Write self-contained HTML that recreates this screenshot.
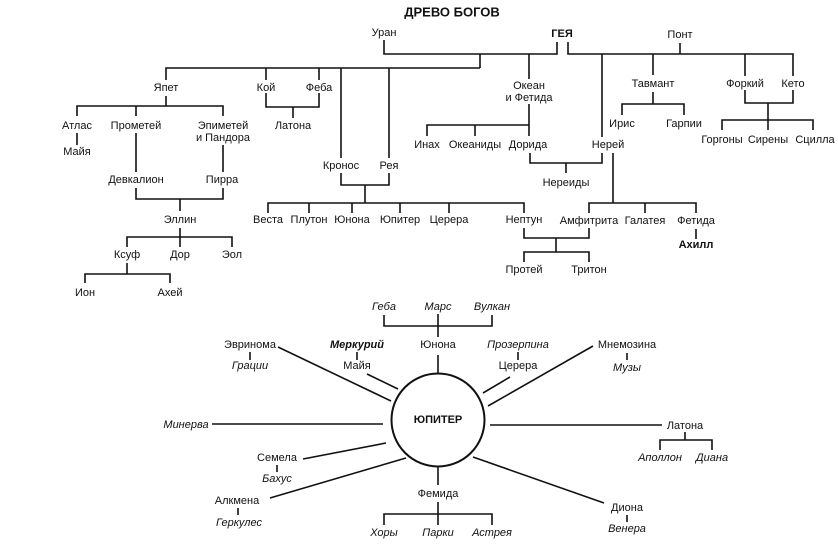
<!DOCTYPE html>
<html><head><meta charset="utf-8"><style>
html,body{margin:0;padding:0;background:#fff;}
svg{display:block;}
text{font-family:"Liberation Sans",sans-serif;font-size:11px;fill:#111;text-anchor:middle;dominant-baseline:central;}
.i{font-style:italic;}
.b{font-weight:bold;}
</style></head><body>
<svg width="838" height="545" viewBox="0 0 838 545" xmlns="http://www.w3.org/2000/svg">
<g stroke="#111" stroke-width="1.6" fill="none">
<!-- top -->
<polyline points="384,40 384,54 557,54 557,42"/>
<polyline points="480,54 480,68"/>
<polyline points="166,80 166,68 480,68"/>
<line x1="266" y1="68" x2="266" y2="80"/>
<line x1="319" y1="68" x2="319" y2="80"/>
<line x1="341" y1="68" x2="341" y2="158"/>
<line x1="389" y1="68" x2="389" y2="158"/>
<line x1="529" y1="54" x2="529" y2="79"/>
<polyline points="568,42 568,54 793,54 793,76"/>
<line x1="680" y1="43" x2="680" y2="54"/>
<line x1="602" y1="54" x2="602" y2="137"/>
<line x1="653" y1="54" x2="653" y2="75"/>
<line x1="745" y1="54" x2="745" y2="76"/>
<!-- Тавмант -->
<polyline points="653,92 653,104"/>
<polyline points="622,115 622,104 684,104 684,115"/>
<!-- Форкий Кето -->
<polyline points="745,90 745,103 793,103 793,90"/>
<line x1="768" y1="103" x2="768" y2="120"/>
<polyline points="722,130 722,120 813,120 813,130"/>
<line x1="768" y1="120" x2="768" y2="130"/>
<!-- Океан -->
<line x1="529" y1="104" x2="529" y2="136"/>
<polyline points="427,136 427,125 529,125"/>
<line x1="475" y1="125" x2="475" y2="136"/>
<polyline points="530,153 530,163 602,163 602,153"/>
<line x1="566" y1="163" x2="566" y2="173"/>
<!-- Нерей -->
<line x1="613" y1="153" x2="613" y2="203"/>
<polyline points="589,213 589,203 696,203 696,213"/>
<line x1="645" y1="203" x2="645" y2="213"/>
<line x1="696" y1="229" x2="696" y2="239"/>
<!-- Нептун -->
<polyline points="524,228 524,238 589,238 589,228"/>
<line x1="556" y1="238" x2="556" y2="252"/>
<polyline points="524,262 524,252 589,252 589,262"/>
<!-- Kronos -->
<polyline points="341,173 341,185 389,185 389,173"/>
<line x1="365" y1="185" x2="365" y2="203"/>
<polyline points="268,213 268,203 524,203 524,213"/>
<line x1="309" y1="203" x2="309" y2="213"/>
<line x1="352" y1="203" x2="352" y2="213"/>
<line x1="400" y1="203" x2="400" y2="213"/>
<line x1="449" y1="203" x2="449" y2="213"/>
<!-- Кой Феба -->
<polyline points="266,93 266,107 319,107 319,93"/>
<line x1="293" y1="107" x2="293" y2="118"/>
<!-- Япет -->
<line x1="166" y1="96" x2="166" y2="106"/>
<polyline points="77,116 77,106 223,106 223,116"/>
<line x1="136" y1="106" x2="136" y2="116"/>
<line x1="77" y1="133" x2="77" y2="145"/>
<line x1="136" y1="133" x2="136" y2="172"/>
<line x1="223" y1="145" x2="223" y2="172"/>
<polyline points="136,188 136,199 223,199 223,188"/>
<line x1="180" y1="199" x2="180" y2="211"/>
<line x1="180" y1="228" x2="180" y2="247"/>
<polyline points="127,247 127,237 232,237 232,247"/>
<line x1="127" y1="263" x2="127" y2="274"/>
<polyline points="85,283 85,274 170,274 170,283"/>
<!-- bottom -->
<circle cx="438" cy="420" r="46.5" stroke-width="2"/>
<polyline points="384,315 384,326 492,326 492,315"/>
<line x1="438" y1="314" x2="438" y2="337"/>
<line x1="438" y1="355" x2="438" y2="373"/>
<line x1="357" y1="352" x2="357" y2="360"/>
<line x1="367" y1="374" x2="398" y2="389"/>
<line x1="250" y1="352" x2="250" y2="360"/>
<line x1="278" y1="347" x2="391" y2="401"/>
<line x1="212" y1="424" x2="383" y2="424"/>
<line x1="303" y1="459" x2="386" y2="443"/>
<line x1="277" y1="465" x2="277" y2="472"/>
<line x1="270" y1="498" x2="406" y2="458"/>
<line x1="238" y1="508" x2="238" y2="515"/>
<line x1="438" y1="467" x2="438" y2="485"/>
<line x1="438" y1="502" x2="438" y2="525"/>
<polyline points="384,525 384,514 492,514 492,525"/>
<line x1="518" y1="352" x2="518" y2="360"/>
<line x1="483" y1="393" x2="510" y2="377"/>
<line x1="627" y1="353" x2="627" y2="360"/>
<line x1="488" y1="406" x2="593" y2="346"/>
<line x1="490" y1="425" x2="662" y2="425"/>
<line x1="685" y1="432" x2="685" y2="440"/>
<polyline points="660,450 660,440 712,440 712,450"/>
<line x1="627" y1="515" x2="627" y2="522"/>
<line x1="473" y1="457" x2="604" y2="503"/>
</g>
<text x="452" y="12" class="b" style="font-size:13px">ДРЕВО БОГОВ</text>
<text x="384" y="33">Уран</text>
<text x="562" y="34" class="b">ГЕЯ</text>
<text x="680" y="35">Понт</text>
<text x="166" y="88">Япет</text>
<text x="266" y="88">Кой</text>
<text x="319" y="88">Феба</text>
<text x="293" y="126">Латона</text>
<text x="529" y="86">Океан</text>
<text x="529" y="98">и Фетида</text>
<text x="653" y="84">Тавмант</text>
<text x="745" y="84">Форкий</text>
<text x="793" y="84">Кето</text>
<text x="622" y="124">Ирис</text>
<text x="684" y="124">Гарпии</text>
<text x="722" y="140">Горгоны</text>
<text x="768" y="140">Сирены</text>
<text x="815" y="140">Сцилла</text>
<text x="427" y="145">Инах</text>
<text x="475" y="145">Океаниды</text>
<text x="528" y="145">Дорида</text>
<text x="608" y="145">Нерей</text>
<text x="566" y="183">Нереиды</text>
<text x="77" y="126">Атлас</text>
<text x="136" y="126">Прометей</text>
<text x="223" y="126">Эпиметей</text>
<text x="223" y="138">и Пандора</text>
<text x="77" y="152">Майя</text>
<text x="136" y="180">Девкалион</text>
<text x="222" y="180">Пирра</text>
<text x="180" y="220">Эллин</text>
<text x="127" y="255">Ксуф</text>
<text x="180" y="255">Дор</text>
<text x="232" y="255">Эол</text>
<text x="85" y="293">Ион</text>
<text x="170" y="293">Ахей</text>
<text x="341" y="166">Кронос</text>
<text x="389" y="166">Рея</text>
<text x="268" y="220">Веста</text>
<text x="309" y="220">Плутон</text>
<text x="352" y="220">Юнона</text>
<text x="400" y="220">Юпитер</text>
<text x="449" y="220">Церера</text>
<text x="524" y="220">Нептун</text>
<text x="589" y="221">Амфитрита</text>
<text x="645" y="221">Галатея</text>
<text x="696" y="221">Фетида</text>
<text x="696" y="245" class="b">Ахилл</text>
<text x="524" y="270">Протей</text>
<text x="589" y="270">Тритон</text>
<!-- bottom -->
<text x="438" y="420" class="b">ЮПИТЕР</text>
<text x="384" y="307" class="i">Геба</text>
<text x="438" y="307" class="i">Марс</text>
<text x="492" y="307" class="i">Вулкан</text>
<text x="438" y="345">Юнона</text>
<text x="357" y="345" class="i b">Меркурий</text>
<text x="357" y="366">Майя</text>
<text x="250" y="345">Эвринома</text>
<text x="250" y="366" class="i">Грации</text>
<text x="186" y="425" class="i">Минерва</text>
<text x="277" y="458">Семела</text>
<text x="277" y="479" class="i">Бахус</text>
<text x="237" y="501">Алкмена</text>
<text x="239" y="523" class="i">Геркулес</text>
<text x="438" y="494">Фемида</text>
<text x="384" y="533" class="i">Хоры</text>
<text x="438" y="533" class="i">Парки</text>
<text x="492" y="533" class="i">Астрея</text>
<text x="518" y="345" class="i">Прозерпина</text>
<text x="518" y="366">Церера</text>
<text x="627" y="345">Мнемозина</text>
<text x="627" y="368" class="i">Музы</text>
<text x="685" y="426">Латона</text>
<text x="660" y="458" class="i">Аполлон</text>
<text x="712" y="458" class="i">Диана</text>
<text x="627" y="508">Диона</text>
<text x="627" y="529" class="i">Венера</text>
</svg>
</body></html>
